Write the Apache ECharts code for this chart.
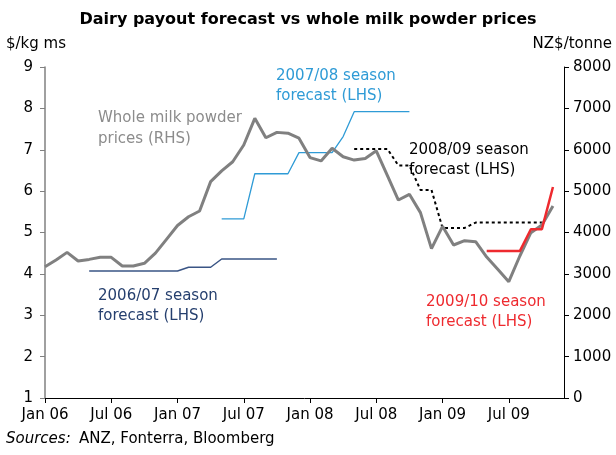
<!DOCTYPE html>
<html>
<head>
<meta charset="utf-8">
<script src="https://cdn.jsdelivr.net/npm/echarts@6/dist/echarts.min.js"></script>
<style>
html,body{margin:0;padding:0;background:#fff;}
#chart{width:616px;height:455px;}
</style>
</head>
<body>
<div id="chart"></div>
<script>
var months = [
 'Jan 06','Feb 06','Mar 06','Apr 06','May 06','Jun 06','Jul 06','Aug 06','Sep 06','Oct 06','Nov 06','Dec 06',
 'Jan 07','Feb 07','Mar 07','Apr 07','May 07','Jun 07','Jul 07','Aug 07','Sep 07','Oct 07','Nov 07','Dec 07',
 'Jan 08','Feb 08','Mar 08','Apr 08','May 08','Jun 08','Jul 08','Aug 08','Sep 08','Oct 08','Nov 08','Dec 08',
 'Jan 09','Feb 09','Mar 09','Apr 09','May 09','Jun 09','Jul 09','Aug 09','Sep 09','Oct 09','Nov 09','Dec 09'
];
// Whole milk powder prices, NZ$/tonne (RHS)
var wmp = [
 3170,3335,3520,3310,3350,3400,3400,3190,3190,3255,3500,3835,
 4170,4380,4520,5230,5490,5710,6115,6760,6290,6420,6400,6280,
 5810,5730,6035,5830,5750,5790,5975,5380,4785,4923,4480,3610,
 4150,3698,3802,3778,3405,3110,2811,3432,3995,4181,4640,null
];
// Season payout forecasts, $/kg ms (LHS)
var s0607 = [
 null,null,null,null,4.07,4.07,4.07,4.07,4.07,4.07,4.07,4.07,
 4.07,4.16,4.16,4.16,4.36,4.36,4.36,4.36,4.36,4.36,null,null,
 null,null,null,null,null,null,null,null,null,null,null,null,
 null,null,null,null,null,null,null,null,null,null,null,null
];
var s0708 = [
 null,null,null,null,null,null,null,null,null,null,null,null,
 null,null,null,null,5.33,5.33,5.33,6.42,6.42,6.42,6.42,6.93,
 6.93,6.93,6.93,7.32,7.92,7.92,7.92,7.92,7.92,7.92,null,null,
 null,null,null,null,null,null,null,null,null,null,null,null
];
var s0809 = [
 null,null,null,null,null,null,null,null,null,null,null,null,
 null,null,null,null,null,null,null,null,null,null,null,null,
 null,null,null,null,7.02,7.02,7.02,7.02,6.62,6.62,6.03,6.03,
 5.11,5.11,5.11,5.24,5.24,5.24,5.24,5.24,5.24,5.24,null,null
];
var s0910 = [
 null,null,null,null,null,null,null,null,null,null,null,null,
 null,null,null,null,null,null,null,null,null,null,null,null,
 null,null,null,null,null,null,null,null,null,null,null,null,
 null,null,null,null,4.55,4.55,4.55,4.55,5.08,5.08,6.1,null
];
var leftTicks = [1,9,1];
var rightTicks = [0,8000,1000];

var FONT = 'DejaVu Sans';
var chart = echarts.init(document.getElementById('chart'), null, {renderer:'canvas'});
var option = {
  animation:false,
  backgroundColor:'#fff',
  textStyle:{fontFamily:FONT},
  title:{
    text:'Dairy payout forecast vs whole milk powder prices',
    left:'center', top:7,
    textStyle:{fontFamily:FONT,fontSize:16,fontWeight:'bold',color:'#000'}
  },
  grid:{left:45,right:52,top:67,bottom:57,containLabel:false},
  xAxis:{
    type:'category', data:months, boundaryGap:false,
    axisLine:{lineStyle:{color:'#000',width:1}},
    axisTick:{interval:5,length:5,lineStyle:{color:'#000'}},
    axisLabel:{interval:5,margin:10,fontSize:15,color:'#000',fontFamily:FONT},
    splitLine:{show:false}
  },
  yAxis:[{
    type:'value', min:leftTicks[0], max:leftTicks[1], interval:leftTicks[2], position:'left',
    name:'$/kg ms', nameLocation:'end', nameGap:15,
    nameTextStyle:{fontFamily:FONT,fontSize:15,color:'#000',align:'left',padding:[0,0,0,-39]},
    axisLine:{show:true,lineStyle:{color:'#808080',width:1.5}},
    axisTick:{show:true,length:5,lineStyle:{color:'#808080'}},
    axisLabel:{margin:12,fontSize:15,color:'#000',fontFamily:FONT},
    splitLine:{show:false}
  },{
    type:'value', min:rightTicks[0], max:rightTicks[1], interval:rightTicks[2], position:'right',
    name:'NZ$/tonne', nameLocation:'end', nameGap:15,
    nameTextStyle:{fontFamily:FONT,fontSize:15,color:'#000',align:'right',padding:[0,-48,0,0]},
    axisLine:{show:true,lineStyle:{color:'#000',width:1}},
    axisTick:{show:true,length:5,lineStyle:{color:'#000'}},
    axisLabel:{margin:9,fontSize:15,color:'#000',fontFamily:FONT,formatter:function(v){return String(v);}},
    splitLine:{show:false}
  }],
  series:[
    {name:'Whole milk powder prices (RHS)',type:'line',yAxisIndex:1,data:wmp,showSymbol:false,symbol:'none',
     lineStyle:{color:'#808080',width:3},z:3},
    {name:'2006/07',type:'line',yAxisIndex:0,data:s0607,showSymbol:false,symbol:'none',
     lineStyle:{color:'#3a5585',width:1.5},z:2},
    {name:'2007/08',type:'line',yAxisIndex:0,data:s0708,showSymbol:false,symbol:'none',
     lineStyle:{color:'#2f9bd6',width:1.3},z:2},
    {name:'2008/09',type:'line',yAxisIndex:0,data:s0809,showSymbol:false,symbol:'none',
     lineStyle:{color:'#000',width:2,type:[3,3]},z:2},
    {name:'2009/10',type:'line',yAxisIndex:0,data:s0910,showSymbol:false,symbol:'none',
     lineStyle:{color:'#ee2a2f',width:2.5},z:4}
  ],
  graphic:[
    {type:'text',left:98,top:108,style:{text:'Whole milk powder\nprices (RHS)',fill:'#8c8c8c',font:'15px "DejaVu Sans"',lineHeight:21}},
    {type:'text',left:276,top:66,style:{text:'2007/08 season\nforecast (LHS)',fill:'#2f9bd6',font:'15px "DejaVu Sans"',lineHeight:20}},
    {type:'text',left:409,top:140,style:{text:'2008/09 season\nforecast (LHS)',fill:'#000',font:'15px "DejaVu Sans"',lineHeight:20}},
    {type:'text',left:98,top:286,style:{text:'2006/07 season\nforecast (LHS)',fill:'#253f6e',font:'15px "DejaVu Sans"',lineHeight:20}},
    {type:'text',left:426,top:292,style:{text:'2009/10 season\nforecast (LHS)',fill:'#ee2a2f',font:'15px "DejaVu Sans"',lineHeight:20}},
    {type:'text',left:6,top:432,style:{text:'Sources:',fill:'#000',font:'italic 15px "DejaVu Sans"'}},
    {type:'text',left:79,top:432,style:{text:'ANZ, Fonterra, Bloomberg',fill:'#000',font:'15px "DejaVu Sans"'}}
  ]
};
chart.setOption(option);
</script>
</body>
</html>
